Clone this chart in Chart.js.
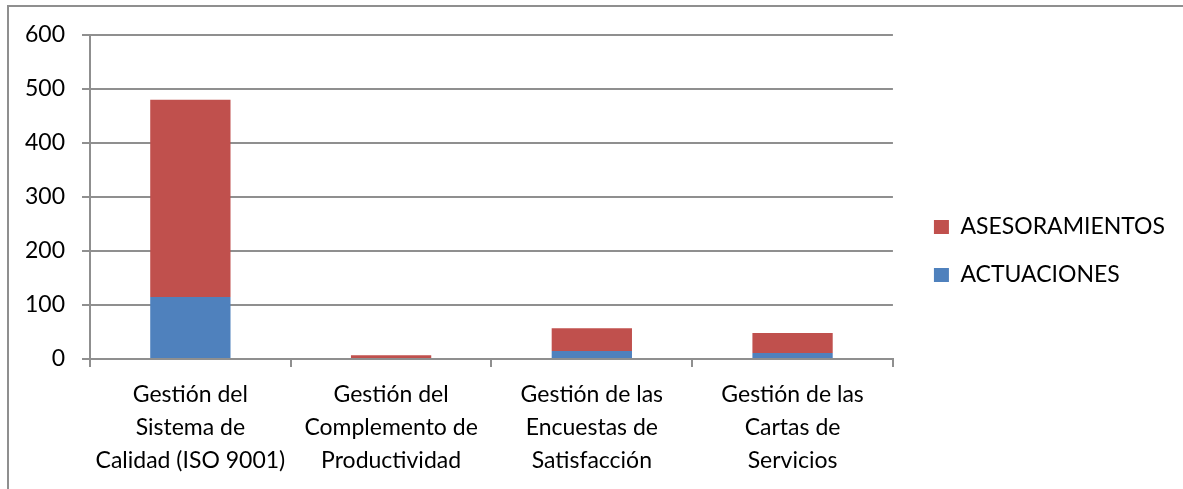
<!DOCTYPE html>
<html>
<head>
<meta charset="utf-8">
<script src="https://cdn.jsdelivr.net/npm/chart.js@4.4.0/dist/chart.umd.min.js"></script>
<style>
  html, body { margin: 0; padding: 0; background: #fff; overflow: hidden; }
  #wrap { position: relative; width: 1183px; height: 489px; }
  #frame { position: absolute; left: 7px; top: 5px; right: -10px; bottom: -10px; border: 2px solid #8f8f8f; box-sizing: border-box; pointer-events: none; }
  canvas { position: absolute; left: 0; top: 0; }
</style>
</head>
<body>
<div id="wrap">
  <canvas id="c" width="1183" height="489"></canvas>
  <div id="frame"></div>
</div>
<script>
const categories = [
  ["Gestión del", "Sistema de", "Calidad (ISO 9001)"],
  ["Gestión del", "Complemento de", "Productividad"],
  ["Gestión de las", "Encuestas de", "Satisfacción"],
  ["Gestión de las", "Cartas de", "Servicios"]
];
const actuaciones = [115, 0, 15, 11];
const asesoramientos = [365, 7, 42, 37];
const yTicks = [0, 100, 200, 300, 400, 500, 600];

const FONT = "Lato, Carlito, Calibri, sans-serif";
const FS = 23;
const GRID = "#8f8f8f";

// shift the legend box (position only) after layout
const legendShift = {
  id: "legendShift",
  afterLayout(chart) {
    const lg = chart.legend;
    if (!lg) return;
    const dx = 16, dy = -11;
    lg.left += dx; lg.right += dx;
    lg.top += dy; lg.bottom += dy;
  }
};

new Chart(document.getElementById("c"), {
  type: "bar",
  data: {
    labels: categories,
    datasets: [
      { label: "ACTUACIONES", data: actuaciones, backgroundColor: "#4F81BD", borderWidth: 0 },
      { label: "ASESORAMIENTOS", data: asesoramientos, backgroundColor: "#C0504D", borderWidth: 0 }
    ]
  },
  plugins: [legendShift],
  options: {
    responsive: false,
    animation: false,
    devicePixelRatio: 1,
    layout: { padding: { left: 0, top: 35, right: 24, bottom: 0 } },
    datasets: { bar: { categoryPercentage: 1.0, barPercentage: 0.4 } },
    plugins: {
      tooltip: { enabled: false },
      legend: {
        position: "right",
        reverse: true,
        labels: {
          color: "#000",
          font: { family: FONT, size: FS },
          boxWidth: 15,
          boxHeight: 14,
          padding: 25
        }
      }
    },
    scales: {
      x: {
        stacked: true,
        afterFit(s) { s.height = 130; },
        grid: { display: true, drawOnChartArea: false, drawTicks: true, tickLength: 8, color: GRID, lineWidth: 2, offset: true },
        border: { display: true, color: GRID, width: 2 },
        ticks: { color: "#000", font: { family: FONT, size: FS, lineHeight: 1.44 }, padding: 11, maxRotation: 0, autoSkip: false }
      },
      y: {
        stacked: true,
        min: 0,
        max: 600,
        afterFit(s) { s.width = 90; },
        afterBuildTicks(s) { s.ticks = yTicks.map(v => ({ value: v })); },
        grid: { color: GRID, lineWidth: 2, tickLength: 8, drawTicks: true },
        border: { display: true, color: GRID, width: 2 },
        ticks: { color: "#000", font: { family: FONT, size: FS }, padding: 17 }
      }
    }
  }
});
</script>
</body>
</html>
